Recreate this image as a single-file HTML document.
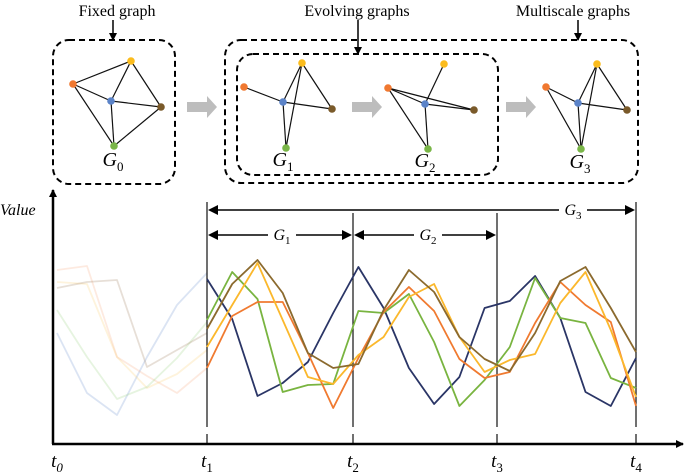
<!DOCTYPE html>
<html><head><meta charset="utf-8"><style>
body{margin:0;background:#fff}
svg{display:block;font-family:"Liberation Serif","DejaVu Serif",serif}
text{font-family:"Liberation Serif","DejaVu Serif",serif}
</style></head><body>
<svg id="fig" width="685" height="472" viewBox="0 0 685 472" font-family="Liberation Serif, DejaVu Serif, serif">
<defs>
<marker id="ah" markerWidth="8" markerHeight="8" refX="7" refY="4" orient="auto" markerUnits="userSpaceOnUse"><path d="M0,0 L8,4 L0,8 z" fill="#000"/></marker>
</defs>
<text x="117" y="16" font-size="16" text-anchor="middle" font-family="Liberation Serif, serif">Fixed graph</text>
<line x1="113" y1="20" x2="113" y2="40" stroke="#000" stroke-width="1.5" marker-end="url(#ah)"/>
<text x="357" y="16" font-size="16" text-anchor="middle" font-family="Liberation Serif, serif">Evolving graphs</text>
<line x1="358" y1="20" x2="358" y2="54" stroke="#000" stroke-width="1.5" marker-end="url(#ah)"/>
<text x="573" y="16" font-size="16" text-anchor="middle" font-family="Liberation Serif, serif">Multiscale graphs</text>
<line x1="578" y1="20" x2="578" y2="40" stroke="#000" stroke-width="1.5" marker-end="url(#ah)"/>
<rect x="53" y="40" width="122" height="144" rx="16" fill="none" stroke="#000" stroke-width="2" stroke-dasharray="6,4"/>
<rect x="225" y="40" width="413" height="143" rx="16" fill="none" stroke="#000" stroke-width="2" stroke-dasharray="6,4"/>
<rect x="237" y="54" width="261" height="121" rx="16" fill="none" stroke="#000" stroke-width="2" stroke-dasharray="6,4"/>
<g fill="#bdbdbd">
<path d="M187,102 H207 V96 L217,107 L207,118 V112 H187 Z"/>
<path d="M352,102 H372 V96 L382,107 L372,118 V112 H352 Z"/>
<path d="M506,102 H526 V96 L536,107 L526,118 V112 H506 Z"/>
</g>
<g id="graphs"></g>
<g id="chart"></g>
</svg>
<script>
const NS='http://www.w3.org/2000/svg';
const FF='Liberation Serif, DejaVu Serif, serif';
function mk(tag,attrs,parent){const e=document.createElementNS(NS,tag);for(const k in attrs)e.setAttribute(k,attrs[k]);parent.appendChild(e);return e;}
const nodeColors={o:'#f07830',y:'#fbbc1d',b:'#5b83c8',r:'#7a5a2a',g:'#7ab648'};
const graphs=[
 {n:'G0',sub:'0',lx:113,ly:166,nodes:{y:[131,61],o:[73,84],b:[111,101],r:[161,107],g:[114,146]},edges:['oy','yb','yr','ob','br','og','bg','rg']},
 {n:'G1',sub:'1',lx:283,ly:166,nodes:{y:[302,63],o:[244,87],b:[283,102],r:[332,109],g:[286,148]},edges:['ob','br','yb','yg','yr','bg']},
 {n:'G2',sub:'2',lx:425,ly:167,nodes:{y:[444,64],o:[388,88],b:[425,104],r:[474,110],g:[428,149]},edges:['yb','ob','or','br','og','bg']},
 {n:'G3',sub:'3',lx:580,ly:168,nodes:{y:[597,64],o:[546,87],b:[578,103],r:[627,110],g:[581,149]},edges:['ob','br','yb','yg','yr','og','bg']}
];
const gg=document.getElementById('graphs');
graphs.forEach(G=>{
 const grp=mk('g',{},gg);
 
 
 G.edges.forEach(e=>{const a=G.nodes[e[0]],b=G.nodes[e[1]];
  const l=mk('line',{x1:a[0],y1:a[1],x2:b[0],y2:b[1],stroke:'#111','stroke-width':1.2},grp);
  
  });
 for(const k in G.nodes){const p=G.nodes[k];
  const c=mk('circle',{cx:p[0],cy:p[1],r:3.8,fill:nodeColors[k]},grp);
  
  }
 const t=mk('text',{x:G.lx,y:G.ly,'font-size':20,'font-style':'italic','text-anchor':'middle','font-family':FF},grp);
 
 
 t.innerHTML='G<tspan font-size="13" font-style="normal" dy="5">'+G.sub+'</tspan>';
});

const timeLabels=['0','1','2','3','4'];
const navy  =[165,125,48,61,82,131,177,136,76,40,67,136,143,168,126,52,38,86];
const green =[124,172,145,52,59,60,133,131,150,102,38,64,97,166,126,121,66,56];
const orange=[76,128,142,142,91,36,86,132,157,133,85,66,72,121,162,139,122,38];
const yellow=[97,139,181,124,67,60,89,107,147,160,107,72,84,90,141,172,114,47];
const brown =[115,160,184,151,91,76,80,134,174,152,107,85,73,111,163,177,136,92];
const fadedNavy  =[111,51,29,87,139,171];
const fadedOrange=[174,178,87,68,51,76];
const fadedYellow=[162,160,87,56,70,94];
const fadedGreen =[134,87,45,57,86,122];
const fadedBrown =[156,162,164,77,94,111];

const Y0=444,xi0=207,step=(636-207)/17;
const xs=i=>xi0+i*step;
const ys=v=>Y0-v;
const fx=i=>57+i*30;
const ch=document.getElementById('chart');
function poly(vals,xf,color,name,op){
 const pts=vals.map((v,i)=>xf(i).toFixed(1)+','+ys(v).toFixed(1)).join(' ');
 const p=mk('polyline',{points:pts,fill:'none',stroke:color,'stroke-width':1.8,'stroke-linejoin':'round','stroke-opacity':op},ch);
 
 
}
poly(fadedNavy,fx,'#5b83c8','faded-series-navy',0.22);
poly(fadedOrange,fx,'#f5a070','faded-series-orange',0.22);
poly(fadedYellow,fx,'#fbc860','faded-series-yellow',0.22);
poly(fadedGreen,fx,'#8ccf70','faded-series-green',0.22);
poly(fadedBrown,fx,'#a08060','faded-series-brown',0.25);
const tx=[57,207,353,497,636];
[1,2,3,4].forEach(k=>{
 const top=(k===1||k===4)?202:213;
 const l=mk('line',{x1:tx[k],y1:top,x2:tx[k],y2:427,stroke:'#111','stroke-width':1.2},ch);
 
 
 const t=mk('line',{x1:tx[k],y1:434,x2:tx[k],y2:444,stroke:'#111','stroke-width':1.2},ch);
 
 
});
poly(navy,xs,'#2a3566','series-navy',1);
poly(green,xs,'#79b440','series-green',1);
poly(orange,xs,'#f07a30','series-orange',1);
poly(yellow,xs,'#fbb82c','series-yellow',1);
poly(brown,xs,'#8b6a2e','series-brown',1);
let a=mk('line',{x1:53,y1:444,x2:53,y2:190,stroke:'#000','stroke-width':2.5,'marker-end':'url(#ah)'},ch);


a=mk('line',{x1:52,y1:444,x2:683,y2:444,stroke:'#000','stroke-width':2.5,'marker-end':'url(#ah)'},ch);


let vt=mk('text',{x:0,y:215,'font-size':16,'font-style':'italic','font-family':FF},ch);


vt.textContent='Value';
timeLabels.forEach((s,k)=>{
 const t=mk('text',{x:tx[k],y:467,'font-size':19,'font-style':'italic','text-anchor':'middle','font-family':FF},ch);
 
 
 t.innerHTML='t<tspan font-size="13" font-style="'+(k===0?'italic':'normal')+'" dy="5">'+s+'</tspan>';
});
function span(x1,x2,y,label,lx,name){
 const g=mk('g',{},ch);
 
 
 mk('line',{x1:x1+8,y1:y,x2:x2-8,y2:y,stroke:'#000','stroke-width':1.5},g);
 mk('path',{d:`M${x1+1},${y} L${x1+11},${y-5} L${x1+11},${y+5} Z`,fill:'#000'},g);
 mk('path',{d:`M${x2-1},${y} L${x2-11},${y-5} L${x2-11},${y+5} Z`,fill:'#000'},g);
 mk('rect',{x:lx-14,y:y-10,width:28,height:18,fill:'#fff'},g);
 const t=mk('text',{x:lx,y:y+5,'font-size':16,'font-style':'italic','text-anchor':'middle','font-family':FF},g);
 t.innerHTML='G<tspan font-size="11" font-style="normal" dy="4">'+label+'</tspan>';
}
span(207,636,210,'3',573,'span-g3');
span(207,353,235,'1',282,'span-g1');
span(353,497,235,'2',428,'span-g2');
</script>
</body></html>
